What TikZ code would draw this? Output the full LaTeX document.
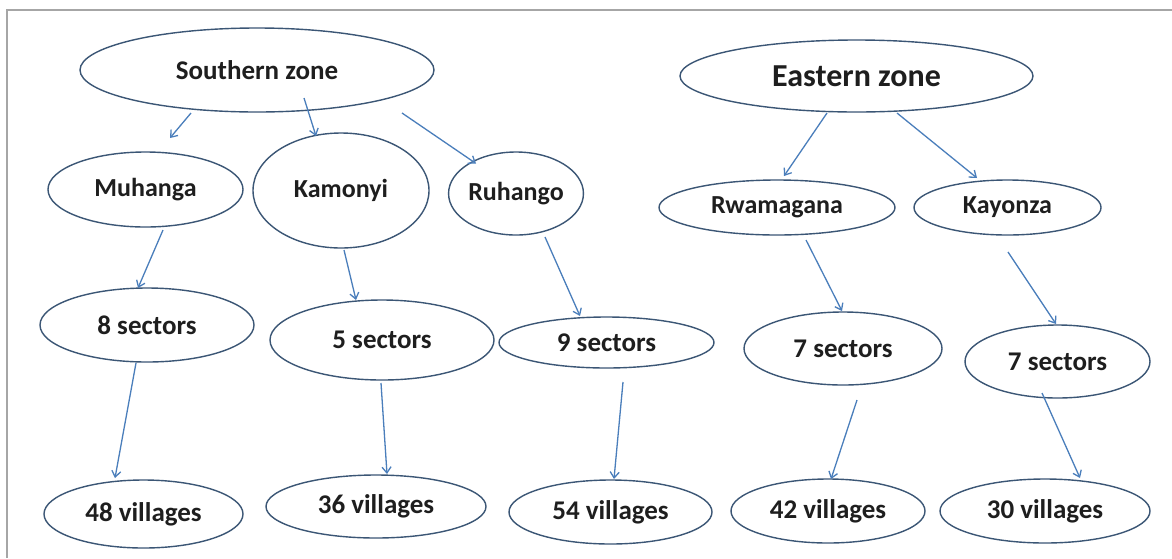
\documentclass[tikz,border=0pt]{standalone}
\usepackage{fontspec}
\setmainfont{Carlito}
\usetikzlibrary{shapes.geometric,arrows.meta}
\definecolor{edge}{HTML}{3B5675}
\definecolor{arrowblue}{HTML}{4A7EBB}
\definecolor{framegray}{HTML}{A6A6A6}
\definecolor{ink}{HTML}{1E1E1E}

\begin{document}
\begin{tikzpicture}[x=1pt,y=-1pt,
  oval/.style args={#1/#2}{ellipse, draw=edge, line width=1.4pt, inner sep=0pt,
    minimum width=#1pt, minimum height=#2pt, text=ink,
    font=\fontsize{26}{30}\selectfont\bfseries},
  big/.style={font=\fontsize{#1}{#1}\selectfont\bfseries},
  link/.style={draw=arrowblue, line width=1.3pt, -{Straight Barb[length=6pt,width=9pt]}}]

% canvas and frame
\fill[white] (0,0) rectangle (1172,558);
\useasboundingbox (0,0) rectangle (1172,558);
\draw[framegray, line width=1.2pt] (7,558) -- (7,10) -- (1172,10);

% zones
\node[oval=354/84, big=27] (sz) at (257,70) {Southern zone};
\node[oval=353/72, big=32] (ez) at (856.5,76) {Eastern zone};

% districts
\node[oval=195/75] (mu) at (145.5,189.5) {Muhanga};
\node[oval=176/115] (ka) at (341,190.5) {Kamonyi};
\node[oval=132/83] (ru) at (516,193.5) {Ruhango};
\node[oval=236/55] (rw) at (777,207.5) {Rwamagana};
\node[oval=187/55] (ky) at (1007.5,207.5) {Kayonza};

% sectors
\node[oval=214/74, big=27] (s8) at (147,325) {8 sectors};
\node[oval=224/80, big=27] (s5) at (382,340) {5 sectors};
\node[oval=215/51, big=27] (s9) at (606.5,342.5) {9 sectors};
\node[oval=198/73, big=27] (s7a) at (843,348.5) {7 sectors};
\node[oval=185/73, big=27] (s7b) at (1057.5,361.5) {7 sectors};

% villages
\node[oval=199/68, big=27] (v48) at (143.5,514) {48 villages};
\node[oval=220/63, big=27] (v36) at (376,506.5) {36 villages};
\node[oval=203/64, big=27] (v54) at (610.5,512) {54 villages};
\node[oval=194/64, big=27] (v42) at (828,511) {42 villages};
\node[oval=210/64, big=27] (v30) at (1045,511) {30 villages};

% zone -> district
\draw[link] ([shift={(-66,43)}]sz.center) -- ([shift={(24.5,-51.5)}]mu.center);
\draw[link] ([shift={(47,28)}]sz.center) -- ([shift={(-25,-54.5)}]ka.center);
\draw[link] ([shift={(145,43)}]sz.center) -- ([shift={(-40,-30)}]ru.center);
\draw[link] ([shift={(-29.5,37)}]ez.center) -- ([shift={(7,-31.5)}]rw.center);
\draw[link] ([shift={(40.5,37)}]ez.center) -- ([shift={(-30.5,-29.5)}]ky.center);

% district -> sectors
\draw[link] ([shift={(17.5,40.5)}]mu.center) -- ([shift={(-9,-37)}]s8.center);
\draw[link] ([shift={(3,59.5)}]ka.center) -- ([shift={(-26,-40)}]s5.center);
\draw[link] ([shift={(29,43.5)}]ru.center) -- ([shift={(-26.5,-26.5)}]s9.center);
\draw[link] ([shift={(29,32.5)}]rw.center) -- ([shift={(-1,-37.5)}]s7a.center);
\draw[link] ([shift={(0.5,44.5)}]ky.center) -- ([shift={(-1.5,-37.5)}]s7b.center);

% sectors -> villages
\draw[link] ([shift={(-11,38)}]s8.center) -- ([shift={(-28.5,-36)}]v48.center);
\draw[link] ([shift={(-1,43)}]s5.center) -- ([shift={(11,-32.5)}]v36.center);
\draw[link] ([shift={(16.5,39.5)}]s9.center) -- ([shift={(3.5,-33)}]v54.center);
\draw[link] ([shift={(14,51.5)}]s7a.center) -- ([shift={(3,-32)}]v42.center);
\draw[link] ([shift={(-15.5,31.5)}]s7b.center) -- ([shift={(35,-33)}]v30.center);
\end{tikzpicture}
\end{document}
